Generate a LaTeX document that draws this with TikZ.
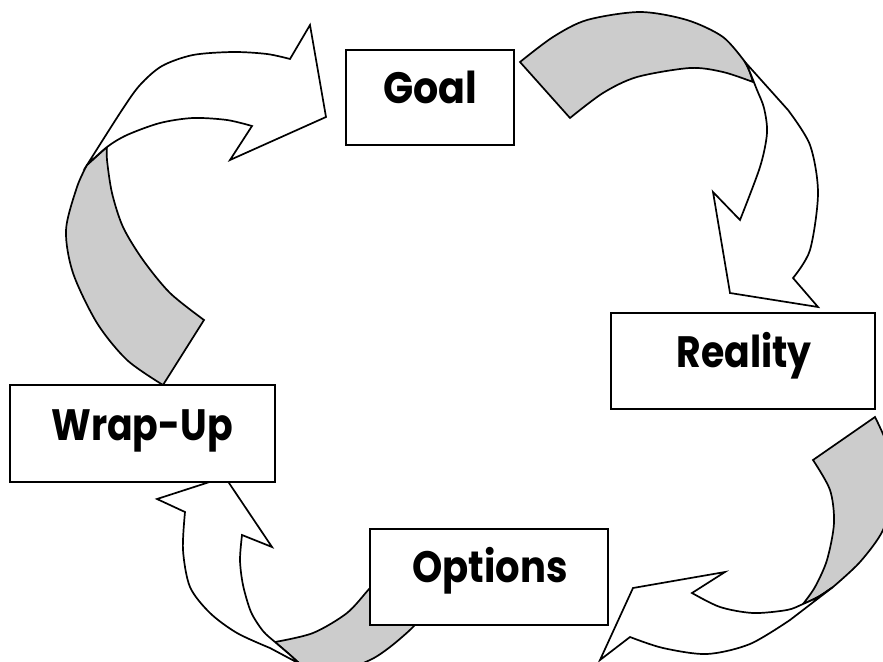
\documentclass[tikz,border=0pt]{standalone}
\usepackage{fontspec}
\setmainfont{Poppins}
\definecolor{ribbon}{RGB}{204,204,204}
\begin{document}
\begin{tikzpicture}[x=1pt,y=-1pt,
  band/.style={draw=black,line width=1.7pt,line join=miter},
  greyband/.style={band,fill=ribbon},
  whiteband/.style={band,fill=white},
  box/.style={draw=black,fill=white,line width=1.8pt,inner sep=0pt,rectangle},
  label/.style={anchor=base,inner sep=0pt,font=\fontsize{36}{40}\selectfont\bfseries}]
\useasboundingbox (0,0) rectangle (883,661);
\begin{scope}
\clip (0,0) rectangle (883,661);
% arrow 1: Wrap-Up -> Goal
\filldraw[greyband] plot[smooth] coordinates {(204,320) (170,293) (143,260) (123,227) (112,193) (107,160) (107,147)}
  -- (87,165) -- plot[smooth] coordinates {(87,165) (77,187) (66,230) (73,273) (97,323) (127,360) (163,385)} -- cycle;
\filldraw[whiteband] plot[smooth] coordinates {(87,165) (122,110) (140,85) (162,66) (193,55) (233,52) (267,54) (290,59)}
  -- (310,25) -- (326,117) -- (230,160)
  -- plot[smooth] coordinates {(252,126) (227,120) (193,118) (160,123) (127,135) (107,147) (87,165)} -- cycle;
% arrow 2: Goal -> Reality
\filldraw[greyband] (570,118) -- plot[smooth] coordinates {(520,62) (553,37) (587,20) (640,12) (687,20) (723,37) (745,62)}
  -- plot[smooth] coordinates {(745,62) (749,70) (753,82)}
  -- plot[smooth] coordinates {(753,82) (723,72) (690,68) (637,77) (603,93) (570,118)} -- cycle;
\filldraw[whiteband] (745,62) -- plot[smooth] coordinates {(788,110) (810,145) (818,193) (810,250) (793,278)}
  -- (818,307) -- (730,293) -- (713,192)
  -- plot[smooth] coordinates {(740,220) (760,167) (767,133) (764,108) (757,90) (749,70) (745,62)} -- cycle;
% arrow 3: Reality -> Options
\filldraw[greyband] (875,417) -- plot[smooth] coordinates {(813,460) (830,490) (834,523) (827,560) (815,587) (803,604)}
  -- plot[smooth] coordinates {(803,604) (818,597) (833,587)}
  -- plot[smooth] coordinates {(833,587) (860,562) (883,530) (893,490) (889,450) (875,417)} -- cycle;
\filldraw[whiteband] (833,587) -- plot[smooth] coordinates {(790,620) (750,644) (707,654) (663,648) (630,637)}
  -- (600,660) -- (633,588) -- (725,572)
  -- plot[smooth] coordinates {(692,593) (720,607) (753,613) (787,610) (803,604) (818,597) (833,587)} -- cycle;
% arrow 4: Options -> Wrap-Up
\filldraw[greyband] plot[smooth] coordinates {(392,565) (370,588) (347,613) (313,633) (275,642)}
  -- plot[smooth] coordinates {(275,642) (289,654) (300,664)}
  -- plot[smooth] coordinates {(300,664) (340,670) (370,660) (390,647) (413,627) (428,608)} -- cycle;
\filldraw[whiteband] (300,664) -- plot[smooth] coordinates {(270,648) (237,633) (210,613) (190,587) (183,550) (185,512)}
  -- (157,499) -- (225,477) -- (272,547)
  -- plot[smooth] coordinates {(242,535) (240,560) (243,585) (251,612) (263,631) (275,642) (289,654) (300,664)} -- cycle;
\end{scope}
% boxes
\node[box,minimum width=168pt,minimum height=95pt] (goalbox) at (430,97.5) {};
\node[box,minimum width=264pt,minimum height=96pt] (realitybox) at (743,361) {};
\node[box,minimum width=265pt,minimum height=97pt] (wrapbox) at (142.5,433.5) {};
\node[box,minimum width=238pt,minimum height=96pt] (optionsbox) at (489,577) {};
% labels
\node[label] (goal) at (430,103) {\scalebox{1.1}[1.22]{Goal}};
\node[label] (reality) at (744,367) {\scalebox{1.05}[1.22]{Reality}};
\node[label] (wrap) at (142,440) {\scalebox{1.05}[1.22]{Wrap-Up}};
\node[label] (options) at (490,582) {\scalebox{1.07}[1.22]{Options}};
\end{tikzpicture}
\end{document}
